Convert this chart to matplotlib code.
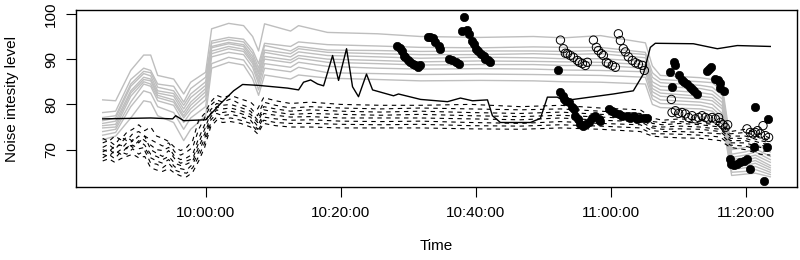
import matplotlib
matplotlib.use("Agg")
import matplotlib.pyplot as plt
import matplotlib.dates as mdates
import pandas as pd

plt.rcParams['font.family'] = ['Liberation Sans', 'DejaVu Sans']

DAY = "2015-06-01 "

# ---------------- data ----------------
grey_times = ["09:44:46", "09:46:41", "09:48:55", "09:50:50", "09:51:52", "09:52:54", "09:55:16",
              "09:56:45", "09:57:47", "10:00:00", "10:00:53", "10:03:24", "10:05:37", "10:06:57",
              "10:07:50", "10:08:43", "10:12:34", "10:13:45", "10:18:02", "10:25:26", "10:31:47",
              "10:40:40", "10:48:30", "10:52:56", "10:58:25", "11:05:04", "11:06:06", "11:07:17",
              "11:13:12", "11:14:58", "11:16:27", "11:17:50", "11:19:51", "11:21:20", "11:23:33"]

grey_s1 = [81.0, 80.8, 87.5, 90.9, 90.9, 86.4, 85.6, 82.3, 84.9, 87.1, 96.7, 97.9, 97.4, 95.0, 91.8, 97.8, 96.2, 97.4, 95.9, 95.6, 95.0, 94.8, 95.0, 94.7, 95.2, 93.6, 88.5, 86.4, 85.9, 85.5, 84.0, 70.0, 70.5, 71.3, 69.5]
grey_s2 = [78.2, 78.5, 85.5, 88.0, 87.5, 84.5, 84.0, 80.5, 83.5, 86.0, 94.0, 94.8, 94.4, 92.0, 89.0, 93.5, 92.8, 93.8, 93.2, 92.9, 92.6, 92.5, 92.7, 92.6, 92.6, 91.5, 87.0, 85.5, 85.0, 84.8, 83.0, 69.0, 69.5, 70.2, 68.5]
grey_s3 = [77.1, 77.5, 84.5, 87.3, 87.0, 83.8, 83.0, 79.8, 82.3, 85.0, 93.5, 94.3, 93.8, 91.3, 88.0, 93.0, 91.8, 92.8, 92.0, 91.9, 91.7, 91.8, 91.8, 91.7, 91.9, 91.0, 86.0, 84.8, 84.2, 83.8, 82.0, 68.3, 68.8, 69.5, 67.8]
grey_s4 = [76.4, 77.0, 84.0, 86.8, 86.3, 83.0, 82.4, 79.0, 81.5, 84.2, 92.8, 93.7, 93.2, 90.6, 87.2, 92.0, 91.2, 92.3, 91.5, 91.2, 91.0, 91.0, 91.2, 91.0, 91.2, 90.3, 85.0, 84.0, 83.5, 83.0, 81.2, 67.8, 68.2, 68.8, 67.2]
grey_s5 = [75.8, 76.3, 83.0, 86.0, 85.6, 82.5, 81.8, 78.2, 80.5, 83.5, 92.5, 93.4, 92.8, 90.0, 86.8, 91.5, 90.5, 91.6, 90.8, 90.5, 90.2, 90.4, 90.3, 90.1, 90.1, 89.5, 84.2, 83.2, 82.6, 82.2, 80.4, 67.2, 67.6, 68.2, 66.5]
grey_s6 = [75.3, 75.6, 82.5, 85.5, 85.2, 82.0, 81.0, 77.5, 79.8, 82.8, 91.8, 92.8, 92.2, 89.5, 86.0, 90.6, 89.8, 90.8, 90.0, 89.7, 89.4, 89.6, 89.5, 89.4, 89.3, 88.8, 83.5, 82.5, 81.8, 81.5, 79.6, 66.7, 67.0, 67.6, 66.0]
grey_s7 = [74.8, 75.0, 81.8, 85.0, 84.5, 81.5, 80.5, 77.0, 79.0, 82.0, 91.2, 92.3, 91.7, 89.0, 85.2, 90.0, 89.2, 90.2, 89.3, 89.0, 88.7, 88.8, 88.8, 88.6, 88.6, 88.0, 82.8, 81.8, 81.2, 80.8, 79.0, 66.2, 66.5, 67.0, 65.5]
grey_s8 = [74.0, 74.5, 80.5, 84.5, 84.0, 80.8, 79.8, 76.0, 78.2, 81.0, 90.5, 91.5, 91.0, 88.2, 84.5, 89.0, 88.2, 89.3, 88.4, 88.0, 87.8, 87.9, 87.8, 87.6, 87.5, 87.2, 82.0, 81.0, 80.5, 80.0, 78.0, 65.6, 66.0, 66.3, 65.0]
grey_s9 = [73.2, 73.8, 79.5, 83.0, 82.5, 79.5, 78.2, 74.5, 77.0, 79.5, 89.0, 90.4, 89.8, 87.0, 83.2, 88.0, 87.2, 88.2, 87.0, 86.8, 86.6, 86.7, 86.6, 86.5, 86.4, 86.0, 81.2, 80.2, 79.8, 79.2, 77.2, 65.0, 65.2, 65.6, 64.5]
grey_s10 = [72.2, 73.0, 77.0, 80.8, 80.5, 77.5, 76.0, 72.0, 74.5, 77.5, 88.0, 89.3, 88.7, 85.6, 82.0, 86.5, 85.6, 86.5, 85.8, 85.5, 85.2, 85.3, 85.2, 85.0, 84.9, 84.5, 80.0, 79.3, 79.0, 78.5, 76.5, 64.3, 64.6, 64.8, 64.0]

dash_times = ["09:44:46", "09:45:39", "09:46:33", "09:47:26", "09:48:19", "09:49:12", "09:50:06",
              "09:50:59", "09:51:52", "09:52:45", "09:53:38", "09:54:32", "09:55:25", "09:56:18",
              "09:57:11", "09:58:05", "09:58:58", "09:59:51", "10:00:44", "10:01:38", "10:02:31",
              "10:03:42", "10:05:11", "10:06:39", "10:07:41", "10:08:35", "10:10:21", "10:12:34",
              "10:15:32", "10:19:58", "10:25:53", "10:31:48", "10:39:11", "10:46:35", "10:52:30",
              "10:58:24", "11:04:19", "11:06:06", "11:07:35", "11:10:14", "11:13:12", "11:16:09",
              "11:17:38", "11:19:51", "11:22:04", "11:23:33"]

dash_s1 = [72.5, 71.8, 73.0, 72.2, 73.8, 74.5, 75.5, 74.2, 75.0, 73.0, 72.5, 71.8, 70.5, 69.8, 70.5, 72.0, 76.5, 78.0,
           80.5, 82.0, 81.5, 82.0, 81.2, 80.5, 79.0, 81.5, 80.8, 80.2, 80.5, 80.0, 79.8, 79.8, 80.0, 79.5, 79.8, 79.2, 78.8, 77.0, 76.5, 76.8, 76.5, 76.0, 74.0, 74.5, 73.5, 72.5]
dash_s2 = [71.5, 72.0, 71.0, 72.8, 72.0, 73.5, 74.0, 73.0, 72.2, 71.5, 70.8, 71.5, 69.5, 68.8, 69.5, 70.5, 74.5, 77.0,
           79.8, 81.0, 80.5, 81.2, 80.0, 79.2, 77.5, 80.5, 79.8, 79.2, 79.5, 79.2, 79.0, 79.2, 79.0, 78.8, 79.0, 78.5, 78.0, 76.2, 76.0, 76.2, 75.8, 75.5, 73.5, 73.8, 72.8, 72.0]
dash_s3 = [70.5, 71.2, 70.0, 71.5, 72.8, 71.8, 73.0, 72.0, 71.0, 70.0, 69.8, 70.5, 68.5, 67.8, 68.2, 69.0, 72.5, 75.5,
           78.8, 80.2, 79.8, 80.0, 79.3, 78.5, 76.5, 79.5, 79.0, 78.5, 78.8, 78.5, 78.3, 78.5, 78.2, 78.0, 78.3, 77.8, 77.5, 75.8, 75.5, 75.8, 75.5, 75.0, 73.0, 73.0, 72.0, 71.5]
dash_s4 = [70.0, 69.5, 70.8, 71.0, 70.2, 72.2, 71.5, 73.0, 70.0, 69.2, 68.5, 69.8, 68.0, 67.0, 67.5, 68.0, 71.5, 74.5,
           78.0, 79.5, 79.0, 79.2, 78.6, 77.8, 76.0, 78.8, 78.3, 77.8, 78.0, 77.8, 77.6, 77.8, 77.5, 77.3, 77.6, 77.2, 76.8, 75.2, 75.0, 75.2, 75.0, 74.5, 72.5, 72.5, 71.5, 71.0]
dash_s5 = [69.5, 70.2, 69.0, 70.0, 71.5, 70.5, 72.0, 71.0, 69.0, 68.5, 67.8, 68.5, 67.0, 66.5, 66.8, 67.5, 70.5, 73.5,
           77.2, 78.8, 78.2, 78.5, 78.0, 77.2, 75.2, 78.0, 77.6, 77.2, 77.3, 77.0, 77.0, 77.0, 76.8, 76.6, 77.0, 76.5, 76.2, 74.8, 74.5, 74.6, 74.5, 74.0, 72.0, 72.0, 71.0, 70.5]
dash_s6 = [69.0, 68.5, 69.8, 69.0, 70.5, 71.0, 70.2, 70.5, 68.2, 67.5, 67.0, 67.8, 66.2, 65.8, 65.5, 66.8, 69.5, 72.5,
           76.5, 78.0, 77.5, 77.8, 77.3, 76.5, 74.5, 77.2, 76.8, 76.5, 76.6, 76.3, 76.2, 76.3, 76.0, 75.8, 76.2, 75.8, 75.5, 74.2, 74.0, 74.0, 73.8, 73.5, 71.5, 71.5, 70.5, 70.0]
dash_s7 = [68.2, 69.0, 68.0, 69.5, 69.0, 70.2, 69.0, 69.8, 67.0, 66.8, 66.0, 67.0, 65.5, 65.0, 64.8, 66.0, 68.5, 71.5,
           75.8, 77.2, 76.8, 77.0, 76.5, 75.8, 74.0, 76.5, 76.0, 75.8, 75.8, 75.6, 75.5, 75.6, 75.3, 75.2, 75.5, 75.2, 74.8, 73.5, 73.5, 73.4, 73.2, 72.8, 71.0, 70.8, 69.8, 69.5]
dash_s8 = [67.5, 68.0, 67.2, 68.0, 68.5, 69.0, 68.2, 68.5, 66.0, 65.5, 65.2, 65.8, 64.8, 64.2, 64.0, 65.0, 67.5, 70.5,
           75.0, 76.5, 76.0, 76.2, 75.8, 75.0, 73.5, 75.8, 75.3, 75.0, 75.0, 74.8, 74.8, 74.8, 74.6, 74.5, 74.8, 74.5, 74.0, 73.0, 72.8, 72.6, 72.5, 72.0, 70.5, 70.0, 69.0, 68.8]

solid_times = ["09:44:46", "09:51:52", "09:55:07", "09:55:34", "09:56:45", "10:00:00", "10:00:18", "10:02:13",
               "10:04:08", "10:05:28", "10:07:50", "10:12:07", "10:13:45", "10:14:29", "10:15:32", "10:16:34",
               "10:17:27", "10:18:47", "10:19:40", "10:20:51", "10:21:44", "10:22:37", "10:23:48", "10:24:42",
               "10:27:48", "10:28:32", "10:31:48", "10:35:47", "10:37:42", "10:39:29", "10:41:42", "10:42:26",
               "10:43:37", "10:48:03", "10:49:32", "10:50:34", "10:52:03", "10:52:56", "11:00:20", "11:03:17",
               "11:04:46", "11:05:48", "11:06:32", "11:12:10", "11:15:43", "11:18:40", "11:23:33"]
solid_vals = [76.8, 77.0, 76.8, 77.5, 76.4, 76.6, 77.1, 80.2, 83.0, 84.4, 84.2, 83.6, 83.2, 84.9, 85.4, 84.5,
              84.1, 90.8, 85.3, 92.3, 83.9, 81.7, 86.7, 83.2, 81.9, 82.3, 81.1, 80.6, 81.4, 80.8, 81.0, 77.5,
              76.0, 76.0, 76.9, 81.6, 81.6, 80.8, 82.3, 83.0, 86.7, 92.6, 93.5, 93.4, 92.3, 93.0, 92.8]

# filled points: minutes after 10:00:00
filled_min = [28.35, 28.73, 29.09, 29.32, 29.57, 29.91, 30.31, 30.71, 31.05, 31.45, 31.79,
              32.83, 33.27, 33.71, 34.01, 34.50, 34.75, 35.98, 36.48, 36.97, 37.46,
              38.20, 37.96, 38.60, 38.94, 39.44, 39.67, 39.93, 40.33, 40.67, 41.15, 41.40, 41.74, 42.14,
              52.20, 52.50, 52.84, 53.09, 53.38, 53.72, 54.23, 54.46, 54.71, 55.11, 55.45, 55.85, 56.34, 56.68,
              57.18, 57.67, 58.16, 58.41, 59.64, 60.14, 60.63, 61.12, 61.62, 62.36, 62.85, 63.33, 63.84, 64.33,
              64.81, 65.32,
              69.25, 69.40, 68.66, 69.99, 69.01, 70.49, 70.83, 71.23, 71.62, 71.97, 72.31, 72.71, 74.19, 74.53,
              74.82, 75.42, 75.76, 76.05, 76.16, 76.75,
              77.53, 77.74, 78.12, 78.63, 79.11, 79.60, 80.10, 80.59, 81.08, 81.33, 83.06, 83.21, 82.56]
filled_val = [93.0, 92.4, 91.9, 90.8, 90.4, 89.8, 89.3, 88.9, 88.6, 88.2, 88.6,
              94.8, 94.9, 94.7, 93.7, 93.0, 92.3, 90.1, 89.7, 89.3, 88.9,
              99.4, 96.3, 96.5, 95.6, 94.1, 93.4, 92.3, 91.9, 91.2, 90.8, 90.1, 89.7, 89.3,
              87.6, 82.7, 81.9, 81.2, 80.8, 80.5, 79.4, 79.0, 77.5, 76.8, 75.7, 75.3, 75.7, 76.0,
              77.1, 77.5, 76.8, 76.4, 79.0, 78.6, 78.2, 77.9, 77.5, 77.5, 77.1, 77.5, 76.8, 77.1,
              77.1, 77.0,
              89.3, 88.6, 87.1, 86.6, 83.9, 85.3, 84.9, 84.5, 83.9, 83.4, 82.9, 82.2, 87.3, 87.8,
              88.2, 85.6, 85.3, 84.7, 83.6, 82.9,
              68.0, 66.8, 66.7, 66.8, 67.2, 67.6, 68.0, 65.7, 70.5, 79.4, 70.5, 76.8, 63.1]

# open points: minutes after 10:00:00
open_min = [52.50, 52.94, 53.23, 53.53, 53.97, 54.42, 55.01, 55.31, 55.75, 56.19, 56.49,
            57.38, 57.82, 58.11, 58.56, 58.85, 59.30, 59.59, 60.18, 60.63,
            61.07, 61.37, 61.81, 62.11, 62.55, 63.14, 63.59, 64.03, 64.62, 64.92,
            68.91, 69.01, 69.50, 69.99, 70.49, 70.98, 71.47, 71.97, 72.46, 72.95, 73.45, 73.94, 74.42, 74.93,
            75.42, 75.90, 76.16, 76.55, 76.89, 77.24,
            80.10, 80.59, 80.99, 81.33, 81.67, 82.07, 82.47, 82.81, 83.30]
open_val = [94.2, 92.3, 91.3, 91.2, 90.8, 90.4, 89.7, 89.3, 89.0, 88.6, 89.3,
            94.2, 92.6, 91.9, 91.2, 90.8, 89.3, 89.0, 88.6, 88.2,
            95.6, 94.1, 92.3, 91.6, 90.5, 89.7, 89.2, 88.9, 88.6, 87.5,
            81.1, 78.2, 78.6, 78.0, 78.2, 77.9, 77.1, 77.5, 76.8, 77.1, 77.5, 77.1, 76.8, 77.1,
            76.8, 77.1, 76.0, 75.5, 74.9, 75.5,
            74.6, 73.8, 73.5, 73.8, 74.2, 73.5, 75.3, 73.1, 72.7]

x_ticks = ["10:00:00", "10:20:00", "10:40:00", "11:00:00", "11:20:00"]
y_ticks = [70, 80, 90, 100]

# ---------------- plot ----------------
def clock(lst):
    return pd.to_datetime([DAY + s for s in lst])

def from_ten(mins):
    return pd.Timestamp(DAY + "10:00:00") + pd.to_timedelta(mins, unit="m")

grey_series = [grey_s1, grey_s2, grey_s3, grey_s4, grey_s5, grey_s6, grey_s7, grey_s8, grey_s9, grey_s10]
dash_series = [dash_s1, dash_s2, dash_s3, dash_s4, dash_s5, dash_s6, dash_s7, dash_s8]

fig = plt.figure(figsize=(8, 2.6), dpi=100)
ax = fig.add_axes([0.095, 0.279, 0.90125, 0.6825])

gt = clock(grey_times)
for s in grey_series:
    ax.plot(gt, s, color="#bebebe", lw=1.0, zorder=1)

dt = clock(dash_times)
for s in dash_series:
    ax.plot(dt, s, color="black", lw=0.8, dashes=(4, 4), zorder=2)

ax.plot(clock(solid_times), solid_vals, color="black", lw=1.0, zorder=3)

ax.scatter(from_ten(filled_min), filled_val, s=36, color="black", edgecolors="black",
           linewidths=0.5, zorder=4)
ax.scatter(from_ten(open_min), open_val, s=36, facecolors="none", edgecolors="black",
           linewidths=0.7, zorder=4)

# limits with R-style 4% padding
all_t = list(gt) + list(dt) + list(from_ten(filled_min)) + list(from_ten(open_min))
tmin, tmax = min(all_t), max(all_t)
pad = (tmax - tmin) * 0.04
ax.set_xlim(tmin - pad, tmax + pad)
all_v = [v for s in grey_series + dash_series for v in s] + solid_vals + filled_val + open_val
vmin, vmax = min(all_v), max(all_v)
vp = (vmax - vmin) * 0.04
ax.set_ylim(vmin - vp, vmax + vp)

ax.set_xticks(clock(x_ticks))
ax.xaxis.set_major_formatter(mdates.DateFormatter("%H:%M:%S"))
ax.set_yticks(y_ticks)
ax.tick_params(axis="both", direction="out", length=7, width=0.8, labelsize=11, pad=6, color="black")
for lab in ax.get_yticklabels():
    lab.set_rotation(90)
    lab.set_va("center")

for sp in ax.spines.values():
    sp.set_linewidth(1.0)
    sp.set_color("black")

ax.set_xlabel("Time", fontsize=11)
ax.xaxis.set_label_coords(0.5, -0.33)
ax.xaxis.label.set_va("center")
ax.set_ylabel("Noise intesity level", fontsize=11)
ax.yaxis.set_label_coords(-0.089, 0.5)
ax.yaxis.label.set_va("center")

fig.savefig("out.png", dpi=100)
